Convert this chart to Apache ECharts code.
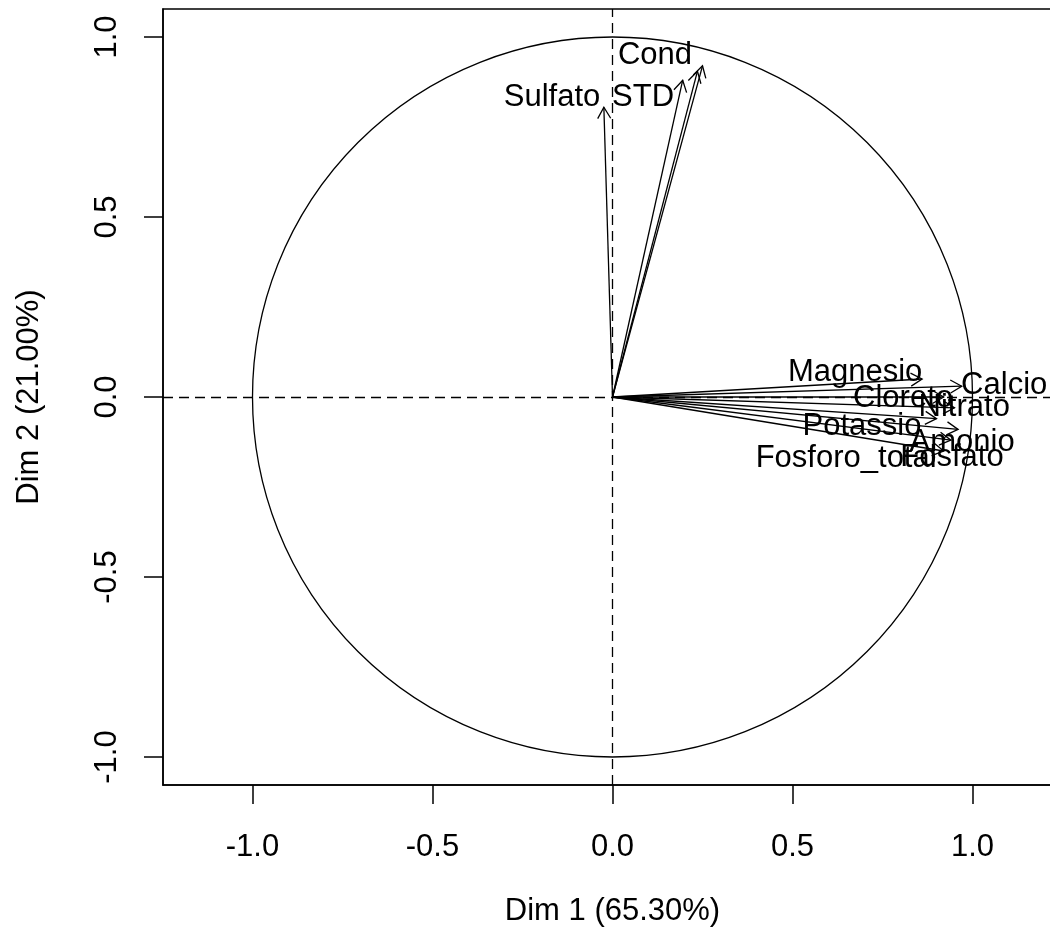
<!DOCTYPE html>
<html><head><meta charset="utf-8">
<script src="https://cdn.jsdelivr.net/npm/echarts@6/dist/echarts.min.js"></script>
<style>html,body{margin:0;padding:0;background:#fff}#c{width:1050px;height:943px}</style>
</head><body><div id="c"></div>
<script>
// Variable arrows (coordinates on Dim 1 / Dim 2)
const arrowDim1 = [0.250, 0.236, 0.195, -0.024, 0.86, 0.97, 0.92, 0.95, 0.90, 0.96, 0.94, 0.92];
const arrowDim2 = [0.920, 0.905, 0.880, 0.805, 0.05, 0.03, 0.00, -0.03, -0.06, -0.09, -0.12, -0.15];
// Variable labels and where they sit (data units)
const labelText = ['Cond', 'STD', 'Sulfato', 'Magnesio', 'Calcio', 'Cloreto', 'Nitrato', 'Potassio', 'Amonio', 'Fosfato', 'Fosforo_total'];
const labelDim1 = [0.118, 0.085, -0.168, 0.674, 1.088, 0.807, 0.977, 0.693, 0.971, 0.943, 0.649];
const labelDim2 = [0.950, 0.833, 0.833, 0.069, 0.031, -0.003, -0.028, -0.083, -0.125, -0.167, -0.172];
const tickValues = [-1.0, -0.5, 0.0, 0.5, 1.0];
const circleRadius = [1];
const xTitle = 'Dim 1 (65.30%)';
const yTitle = 'Dim 2 (21.00%)';

const FONT = "'Liberation Sans', Arial, sans-serif";
const FS = 31;
const chart = echarts.init(document.getElementById('c'), null, {renderer: 'canvas'});

const arrowData = arrowDim1.map((x, i) => [x, arrowDim2[i]]);
const labelData = labelText.map((t, i) => [labelDim1[i], labelDim2[i], t]);

function axisCommon() {
  return {
    type: 'value',
    splitLine: {show: false},
    axisLine: {show: true, onZero: false, lineStyle: {color: '#000', width: 1.5}},
    axisTick: {show: true, length: 19, customValues: tickValues, lineStyle: {color: '#000', width: 1.5}},
    nameLocation: 'middle',
    nameTextStyle: {color: '#000', fontFamily: FONT, fontSize: FS},
  };
}

const option = {
  animation: false,
  backgroundColor: '#fff',
  grid: {left: 163, top: 9, width: 899, height: 776, show: true, borderColor: '#000', borderWidth: 1.5,
    containLabel: false, outerBoundsMode: 'none'},
  xAxis: Object.assign(axisCommon(), {
    min: -1.2486, max: 1.2486,
    name: xTitle, nameGap: 111,
    axisLabel: {customValues: tickValues, margin: 47, color: '#000', fontFamily: FONT, fontSize: FS,
      formatter: v => v.toFixed(1)}
  }),
  yAxis: Object.assign(axisCommon(), {
    min: -1.0778, max: 1.0778,
    name: yTitle, nameGap: 118, nameRotate: 90,
    axisLabel: {customValues: tickValues, margin: 40, rotate: 90, color: '#000', fontFamily: FONT, fontSize: FS,
      formatter: v => v.toFixed(1)}
  }),
  series: [
    {
      type: 'custom',
      name: 'circle',
      clip: false,
      data: [[0, 0, circleRadius[0]]],
      renderItem: function (params, api) {
        const c = api.coord([api.value(0), api.value(1)]);
        const r = api.size([api.value(2), api.value(2)])[0];
        return {type: 'circle', shape: {cx: c[0], cy: c[1], r: r},
          style: {fill: null, stroke: '#000', lineWidth: 1.3}};
      },
      markLine: {
        silent: true, symbol: 'none', label: {show: false},
        lineStyle: {color: '#000', width: 1.3, type: [10, 6]},
        data: [{xAxis: 0}, {yAxis: 0}]
      }
    },
    {
      type: 'custom',
      name: 'arrows',
      clip: false,
      data: arrowData,
      renderItem: function (params, api) {
        const o = api.coord([0, 0]);
        const t = api.coord([api.value(0), api.value(1)]);
        const ang = Math.atan2(t[1] - o[1], t[0] - o[0]);
        const L = 13, a = Math.PI / 6;
        const h1 = [t[0] - L * Math.cos(ang - a), t[1] - L * Math.sin(ang - a)];
        const h2 = [t[0] - L * Math.cos(ang + a), t[1] - L * Math.sin(ang + a)];
        return {type: 'group', children: [
          {type: 'line', shape: {x1: o[0], y1: o[1], x2: t[0], y2: t[1]}, style: {stroke: '#000', lineWidth: 1.3}},
          {type: 'polyline', shape: {points: [h1, t, h2]}, style: {stroke: '#000', fill: null, lineWidth: 1.3}}
        ]};
      }
    },
    {
      type: 'custom',
      name: 'labels',
      clip: false,
      data: labelData,
      renderItem: function (params, api) {
        const p = api.coord([api.value(0), api.value(1)]);
        return {type: 'text', x: p[0], y: p[1],
          style: {text: labelText[params.dataIndex], fill: '#000', font: FS + 'px ' + FONT,
            textAlign: 'center', textVerticalAlign: 'middle'}};
      }
    }
  ]
};
chart.setOption(option);
</script>
</body></html>
